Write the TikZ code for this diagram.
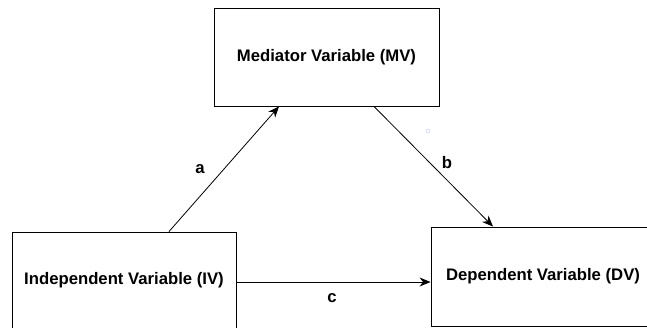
\documentclass[tikz,border=0pt]{standalone}
\usepackage{fontspec}
\setmainfont{Liberation Sans}
\usetikzlibrary{arrows.meta}
\definecolor{dotblue}{HTML}{C5D0EE}
\tikzset{
  varbox/.style={draw=black, line width=0.9pt, fill=white, inner sep=0pt,
    font=\fontsize{16.7}{19}\selectfont\bfseries},
  link/.style={draw=black, line width=0.8pt,
    -{Stealth[length=11pt, width=9pt, inset=3.5pt]}},
  lbl/.style={font=\fontsize{16.7}{19}\selectfont\bfseries, inner sep=0pt}
}
\begin{document}
\begin{tikzpicture}[x=1pt, y=-1pt]
  \useasboundingbox (0,0) rectangle (647,327);
  \clip (0,0) rectangle (647,327);
  \fill[white] (0,0) rectangle (647,327);

  % variable boxes
  \node[varbox, minimum width=225pt, minimum height=98pt] (MV) at (326.5,57) {Mediator Variable (MV)};
  \node[varbox, minimum width=224pt, minimum height=96pt] (IV) at (124,280) {Independent Variable (IV)};
  \node[varbox, minimum width=224pt, minimum height=99pt] (DV) at (543,276.5) {Dependent Variable (DV)};

  % paths
  \draw[link] ([xshift=45pt]IV.north) -- ([xshift=-47.5pt]MV.south);
  \draw[link] ([xshift=47.5pt]MV.south) -- ([xshift=-50pt]DV.north);
  \coordinate (cstart) at ([yshift=-2pt]IV.east);
  \draw[link] (cstart) -- (cstart -| DV.west);

  % path labels
  \node[lbl] (la) at (200,169) {a};
  \node[lbl] (lb) at (447,163) {b};
  \node[lbl] (lc) at (332,298) {c};

  % small connection marker
  \node[draw=dotblue, circle, line width=0.5pt, minimum size=4pt, inner sep=0pt] (pt) at (428,131) {};
\end{tikzpicture}
\end{document}
